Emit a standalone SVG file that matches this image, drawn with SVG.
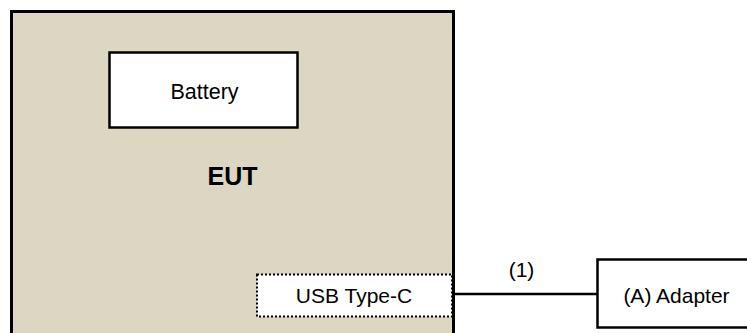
<svg xmlns="http://www.w3.org/2000/svg" width="747" height="333" viewBox="0 0 747 333">
<style>
.t{font-family:"Liberation Sans",Arial,sans-serif;fill:#000;}
.box{fill:#fff;stroke:#000;stroke-width:2.5;}
</style>
<rect width="747" height="333" fill="#fff"/>
<g id="eut">
<rect x="11.5" y="11.5" width="442" height="330" fill="#DCD7C3" stroke="#000" stroke-width="3"/>
<text class="t" x="232.5" y="185" font-size="25" font-weight="bold" text-anchor="middle">EUT</text>
</g>
<g id="battery">
<rect class="box" x="109.5" y="52.5" width="188" height="75"/>
<text class="t" x="204.5" y="99" font-size="21.5" text-anchor="middle">Battery</text>
</g>
<g id="usb">
<rect x="257" y="274.5" width="195" height="42" fill="#fff" stroke="#000" stroke-width="2" stroke-dasharray="2,2"/>
<text class="t" x="354" y="303" font-size="21" text-anchor="middle">USB Type-C</text>
</g>
<g id="adapter">
<rect class="box" x="597.5" y="259.5" width="160" height="68"/>
<text class="t" x="676.5" y="303" font-size="21" text-anchor="middle">(A) Adapter</text>
</g>
<g id="connectors">
<line x1="453" y1="294" x2="598" y2="294" stroke="#000" stroke-width="2.5"/>
<text class="t" x="521.5" y="277" font-size="21" text-anchor="middle">(1)</text>
</g>
</svg>
